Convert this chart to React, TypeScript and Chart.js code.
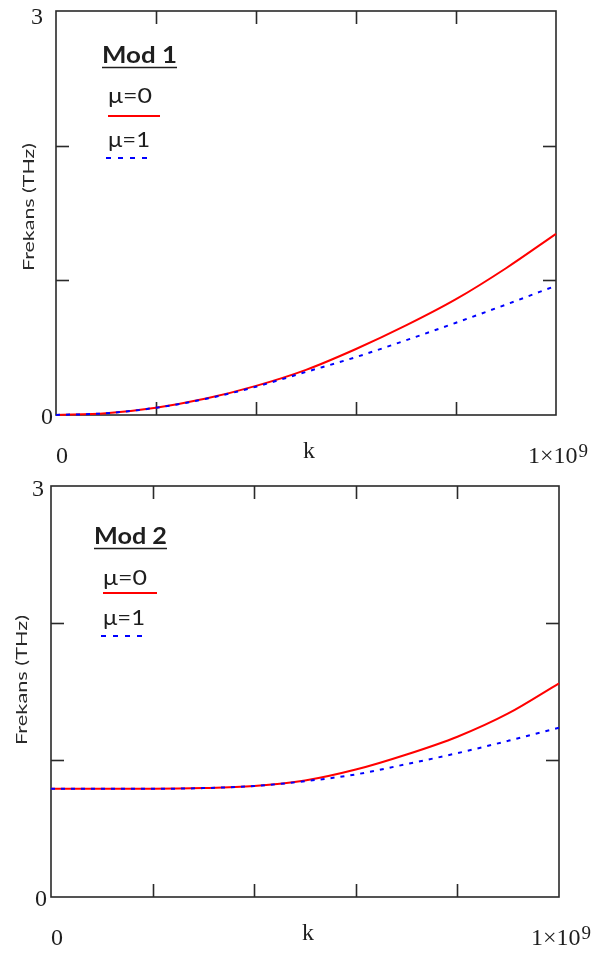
import React, { useEffect, useRef } from "react";
import { Chart, registerables } from "chart.js";

Chart.register(...registerables);

// ---------- data ----------
const kValues = [0, 1e8, 2e8, 3e8, 4e8, 5e8, 6e8, 7e8, 8e8, 9e8, 1e9];
const mod1Mu0 = [0, 0.013, 0.054, 0.122, 0.216, 0.335, 0.49, 0.665, 0.86, 1.09, 1.345];
const mod1Mu1 = [0, 0.013, 0.054, 0.12, 0.21, 0.32, 0.43, 0.555, 0.685, 0.82, 0.96];
const mod2Mu0 = [0.79, 0.79, 0.79, 0.795, 0.81, 0.85, 0.93, 1.04, 1.17, 1.34, 1.56];
const mod2Mu1 = [0.79, 0.79, 0.79, 0.795, 0.81, 0.845, 0.895, 0.97, 1.05, 1.14, 1.235];
const xTicks = [0, 2e8, 4e8, 6e8, 8e8, 1e9];
const yTicks = [0, 1, 2, 3];
const panelTitles = ["Mod 1", "Mod 2"];
const seriesLabels = ["μ=0", "μ=1"];
const yTitle = "Frekans (THz)";
const xTitle = "k";
const xMinLabel = "0";
const xMaxLabelBase = "1×10";
const xMaxLabelExp = "9";
const yMinLabel = "0";
const yMaxLabel = "3";

// ---------- layout (per panel) ----------
const panelLayouts = [
  {
    top: 0, height: 477,
    padding: { left: 56, top: 11, right: 39, bottom: 62 },
    titleX: 102, titleBase: 63, titleW: 75,
    muX: 108, mu0Base: 103, mu1Base: 147, muW: 44,
    redY: 116, redX0: 108, redX1: 160,
    blueY: 158, blueX0: 106, blueX1: 148,
    yTitleX: 29, yTitleY: 207, yTitleLen: 128,
    y3X: 37, y3Y: 18, y0X: 47, y0Y: 418,
  },
  {
    top: 477, height: 478,
    padding: { left: 51, top: 9, right: 36, bottom: 58 },
    titleX: 94, titleBase: 67, titleW: 73,
    muX: 103, mu0Base: 108, mu1Base: 148, muW: 44,
    redY: 116, redX0: 103, redX1: 157,
    blueY: 159, blueX0: 101, blueX1: 144,
    yTitleX: 22, yTitleY: 203, yTitleLen: 130,
    y3X: 38, y3Y: 13, y0X: 41, y0Y: 423,
  },
];

const INK = "#1e1e1e";
const SANS = "Lato, 'Open Sans', 'DejaVu Sans', sans-serif";
const SERIF = "'Liberation Serif', 'DejaVu Serif', serif";

function fitText(ctx: CanvasRenderingContext2D, text: string, x: number, y: number, width: number) {
  const w = ctx.measureText(text).width;
  const s = w > 0 ? width / w : 1;
  ctx.save();
  ctx.translate(x, y);
  ctx.scale(s, 1);
  ctx.textAlign = "left";
  ctx.fillText(text, 0, 0);
  ctx.restore();
}

function line(ctx: CanvasRenderingContext2D, x0: number, y0: number, x1: number, y1: number) {
  ctx.beginPath();
  ctx.moveTo(x0, y0);
  ctx.lineTo(x1, y1);
  ctx.stroke();
}

const framePlugin = {
  id: "mathcadFrame",
  beforeDatasetsDraw(chart: any) {
    const { ctx, chartArea: a, scales } = chart;
    const xs = scales.x, ys = scales.y;
    ctx.save();
    ctx.strokeStyle = "#2a2a2a";
    ctx.lineWidth = 1.6;
    ctx.strokeRect(a.left, a.top, a.right - a.left, a.bottom - a.top);
    const tl = 13;
    for (const v of xTicks.slice(1, -1)) {
      const px = Math.round(xs.getPixelForValue(v)) + 0.5;
      line(ctx, px, a.bottom, px, a.bottom - tl);
      line(ctx, px, a.top, px, a.top + tl);
    }
    for (const v of yTicks.slice(1, -1)) {
      const py = Math.round(ys.getPixelForValue(v)) + 0.5;
      line(ctx, a.left, py, a.left + tl, py);
      line(ctx, a.right, py, a.right - tl, py);
    }
    ctx.restore();
  },
  afterDraw(chart: any, _args: any, opts: any) {
    const L = opts.layout;
    const { ctx, chartArea: a, scales } = chart;
    const xs = scales.x;
    ctx.save();
    ctx.fillStyle = INK;
    ctx.textBaseline = "alphabetic";

    // axis numbers (serif)
    ctx.font = `24px ${SERIF}`;
    ctx.textAlign = "center";
    ctx.textBaseline = "middle";
    ctx.fillText(yMaxLabel, L.y3X, L.y3Y);
    ctx.fillText(yMinLabel, L.y0X, L.y0Y);
    ctx.textBaseline = "alphabetic";
    const x0 = xs.getPixelForValue(kValues[0]);
    const x1 = xs.getPixelForValue(kValues[kValues.length - 1]);
    ctx.fillText(xMinLabel, x0 + 6, a.bottom + 48);
    ctx.fillText(xTitle, (x0 + x1) / 2 + 3, a.bottom + 43);
    ctx.textAlign = "left";
    ctx.fillText(xMaxLabelBase, x1 - 28, a.bottom + 48);
    const bw = ctx.measureText(xMaxLabelBase).width;
    ctx.font = `19px ${SERIF}`;
    ctx.fillText(xMaxLabelExp, x1 - 28 + bw + 1, a.bottom + 42);

    // y title (rotated)
    ctx.font = `15px ${SANS}`;
    ctx.fillStyle = "#2a2a2a";
    ctx.save();
    ctx.translate(L.yTitleX, L.yTitleY);
    ctx.rotate(-Math.PI / 2);
    const tw = ctx.measureText(yTitle).width;
    const s = L.yTitleLen / tw;
    ctx.scale(s, 1);
    ctx.textAlign = "center";
    ctx.textBaseline = "middle";
    ctx.fillText(yTitle, 0, 0);
    ctx.restore();

    // legend block
    ctx.fillStyle = INK;
    ctx.font = `bold 22px ${SANS}`;
    ctx.textBaseline = "alphabetic";
    fitText(ctx, opts.title, L.titleX, L.titleBase, L.titleW);
    ctx.strokeStyle = INK;
    ctx.lineWidth = 1.6;
    line(ctx, L.titleX, L.titleBase + 4.5, L.titleX + L.titleW, L.titleBase + 4.5);

    ctx.font = `22px ${SANS}`;
    fitText(ctx, seriesLabels[0], L.muX, L.mu0Base, L.muW);
    fitText(ctx, seriesLabels[1], L.muX, L.mu1Base, L.muW - 2);

    ctx.strokeStyle = "#ff0000";
    ctx.lineWidth = 2;
    line(ctx, L.redX0, L.redY, L.redX1, L.redY);
    ctx.strokeStyle = "#0000ff";
    ctx.setLineDash([5, 7]);
    line(ctx, L.blueX0, L.blueY, L.blueX1, L.blueY);
    ctx.setLineDash([]);
    ctx.restore();
  },
};

function Panel({ index, mu0, mu1 }: { index: number; mu0: number[]; mu1: number[] }) {
  const ref = useRef<HTMLCanvasElement | null>(null);
  const L = panelLayouts[index];
  useEffect(() => {
    if (!ref.current) return;
    const chart = new Chart(ref.current, {
      type: "line",
      data: {
        datasets: [
          {
            label: seriesLabels[1],
            data: kValues.map((k, i) => ({ x: k, y: mu1[i] })),
            borderColor: "#0000ff",
            borderWidth: 2,
            borderDash: [4, 6],
            pointRadius: 0,
            cubicInterpolationMode: "monotone",
            fill: false,
            order: 0,
            clip: 6,
          },
          {
            label: seriesLabels[0],
            data: kValues.map((k, i) => ({ x: k, y: mu0[i] })),
            borderColor: "#ff0000",
            borderWidth: 2,
            pointRadius: 0,
            cubicInterpolationMode: "monotone",
            fill: false,
            order: 1,
            clip: 6,
          },
        ],
      },
      options: {
        responsive: false,
        animation: false,
        events: [],
        layout: { padding: L.padding },
        scales: {
          x: { type: "linear", min: xTicks[0], max: xTicks[xTicks.length - 1], display: false },
          y: { type: "linear", min: yTicks[0], max: yTicks[yTicks.length - 1], display: false },
        },
        plugins: {
          legend: { display: false },
          tooltip: { enabled: false },
          mathcadFrame: { layout: L, title: panelTitles[index] },
        } as any,
      },
      plugins: [framePlugin as any],
    });
    return () => chart.destroy();
  }, []);
  return (
    <canvas
      ref={ref}
      width={595}
      height={L.height}
      style={{ position: "absolute", left: 0, top: L.top, width: 595, height: L.height }}
    />
  );
}

export default function App() {
  return (
    <div style={{ position: "absolute", left: 0, top: 0, width: 595, height: 955, background: "#fff" }}>
      <Panel index={0} mu0={mod1Mu0} mu1={mod1Mu1} />
      <Panel index={1} mu0={mod2Mu0} mu1={mod2Mu1} />
    </div>
  );
}
